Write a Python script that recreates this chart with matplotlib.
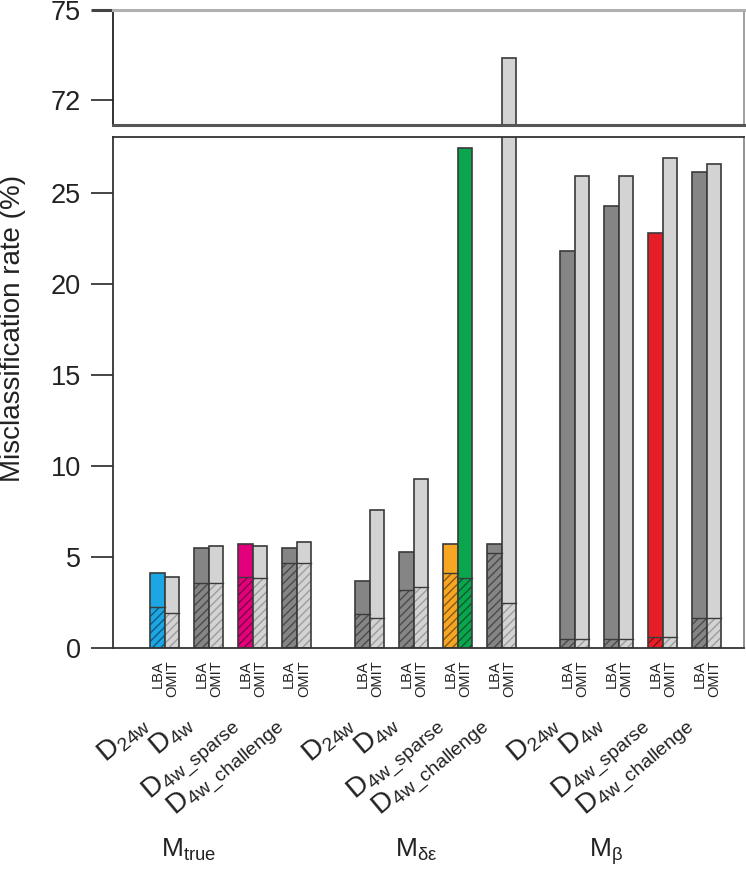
import matplotlib
matplotlib.use('Agg')
import matplotlib.pyplot as plt
import matplotlib.transforms as mtransforms
import matplotlib.colors as mcolors
import numpy as np

groups = ['true', 'δε', 'β']
datasets = ['24w', '4w', '4w\\_sparse', '4w\\_challenge']
methods = ['LBA', 'OMIT']

# total height and hatched (lower) part of each bar, rows = groups, cols = datasets
lba_total = [[4.1, 5.5, 5.7, 5.5],
             [3.7, 5.3, 5.7, 5.7],
             [21.8, 24.3, 22.8, 26.15]]
lba_hatch = [[2.25, 3.6, 3.9, 4.65],
             [1.85, 3.2, 4.1, 5.2],
             [0.5, 0.5, 0.6, 1.65]]
omit_total = [[3.9, 5.6, 5.6, 5.8],
              [7.6, 9.3, 27.45, 73.4],
              [25.95, 25.95, 26.95, 26.6]]
omit_hatch = [[1.95, 3.55, 3.85, 4.65],
              [1.65, 3.35, 3.85, 2.45],
              [0.5, 0.5, 0.6, 1.65]]

base_colors = ['#858585', '#d3d3d3']
hatch_colors = ['#4a4a4a', '#9c9c9c']
highlight = {(0, 0, 0): '#1ca6e3', (0, 2, 0): '#e4007c', (1, 2, 0): '#f6a623',
             (1, 2, 1): '#0aa64e', (2, 2, 0): '#e61e27'}
edge = '#3a3a3a'

plt.rcParams['font.family'] = ['Liberation Sans', 'DejaVu Sans']
plt.rcParams['mathtext.fontset'] = 'custom'
plt.rcParams['mathtext.rm'] = 'Liberation Sans'
plt.rcParams['mathtext.it'] = 'Liberation Sans:italic'
plt.rcParams['mathtext.bf'] = 'Liberation Sans:bold'
plt.rcParams['hatch.linewidth'] = 1.0

fig = plt.figure(figsize=(7.46, 8.71), dpi=100)
ax_top = fig.add_axes([0.1515, 0.8565, 0.8458, 0.132])
ax = fig.add_axes([0.1515, 0.256, 0.8458, 0.5867])

x0 = np.arange(len(groups))[:, None] * 14 + np.arange(len(datasets))[None, :] * 3
series = [(lba_total, lba_hatch), (omit_total, omit_hatch)]

for a in (ax, ax_top):
    for g in range(len(groups)):
        for d in range(len(datasets)):
            for m, (tot, hat) in enumerate(series):
                x = x0[g, d] + m
                col = highlight.get((g, d, m), base_colors[m])
                if (g, d, m) in highlight:
                    hcol = np.array(mcolors.to_rgb(col)) * 0.55
                else:
                    hcol = hatch_colors[m]
                a.bar(x, tot[g][d], width=1, align='edge', color=col, linewidth=0)
                a.bar(x, hat[g][d], width=1, align='edge', color=col, edgecolor=hcol,
                      hatch='////', linewidth=0)
                a.plot([x, x + 1], [hat[g][d], hat[g][d]], color=edge, lw=1.0)
                a.bar(x, tot[g][d], width=1, align='edge', fill=False, edgecolor=edge,
                      linewidth=1.2)
    a.set_xlim(-2.53, 40.55)
    a.set_xticks([])

ax.set_ylim(0, 28.08)
ax_top.set_ylim(71.17, 75)
ax.set_yticks([0, 5, 10, 15, 20, 25])
ax_top.set_yticks([72, 75])
for a in (ax, ax_top):
    a.tick_params(axis='y', length=16, width=1.4, pad=7, labelsize=19.5,
                  color='#444444', labelcolor='#222222')
t75 = ax_top.yaxis.get_major_ticks()[1]
t75.tick1line.set_color('#b0b0b0')
t75.tick1line.set_markeredgewidth(2.2)

ax_top.spines['left'].set_color('#222222')
ax_top.spines['left'].set_linewidth(1.3)
ax_top.spines['top'].set_color('#b0b0b0')
ax_top.spines['top'].set_linewidth(2.2)
ax_top.spines['right'].set_color('#9a9a9a')
ax_top.spines['right'].set_linewidth(1.3)
ax_top.spines['bottom'].set_color('#555555')
ax_top.spines['bottom'].set_linewidth(2.2)
for s in ['left', 'top', 'bottom']:
    ax.spines[s].set_color('#333333')
    ax.spines[s].set_linewidth(1.3)
ax.spines['right'].set_color('#8a8a8a')
ax.spines['right'].set_linewidth(1.3)

trans = mtransforms.blended_transform_factory(ax.transData, ax.transAxes)
for g in range(len(groups)):
    for d in range(len(datasets)):
        for m in range(2):
            ax.text(x0[g, d] + m + 0.5, -0.024, methods[m], rotation=90, ha='center',
                    va='top', fontsize=10.5, color='#222222', transform=trans)
        ax.text(x0[g, d] - 0.9, -0.121, r'$\mathrm{D}_{\mathrm{%s}}$' % datasets[d],
                rotation=40, rotation_mode='anchor', ha='right', va='top',
                fontsize=20, color='#222222', transform=trans)

mlabel_x = [2.6, 18.2, 31.1]
for g in range(len(groups)):
    ax.text(mlabel_x[g], -0.409, r'$\mathrm{M}_{\mathrm{%s}}$' % groups[g], ha='center',
            va='baseline', fontsize=19, color='#222222', transform=trans)

fig.text(0.018, 0.623, 'Misclassification rate (%)', rotation=90, ha='center',
         va='center', fontsize=20, color='#222222')

fig.savefig('out.png', dpi=100)
